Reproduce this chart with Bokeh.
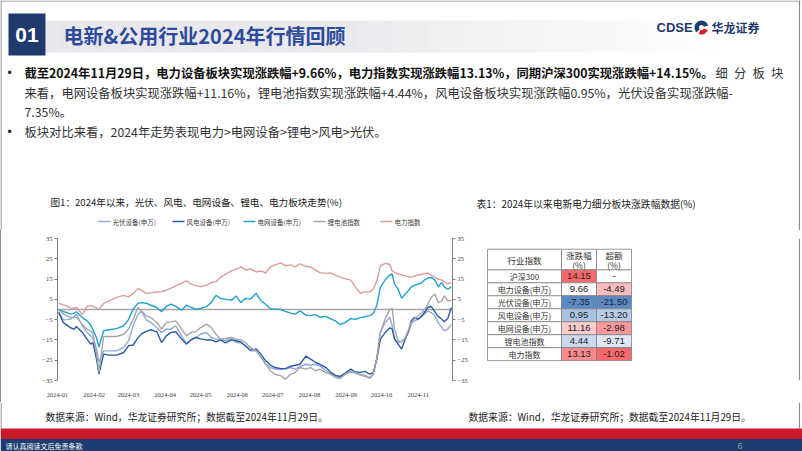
import datetime as dt
import pandas as pd
from bokeh.plotting import figure
from bokeh.layouts import column, row
from bokeh.models import (Range1d, FixedTicker, LinearAxis, Span, Spacer,
                          DatetimeTickFormatter, MonthsTicker, ColumnDataSource)
from bokeh.core.properties import value
from bokeh.embed import file_html
from bokeh.resources import INLINE

# ---------------- data ----------------
dates = [
    "2024-01-02", "2024-01-06", "2024-01-09", "2024-01-12", "2024-01-15", "2024-01-17", "2024-01-22", "2024-01-26", "2024-01-29", "2024-01-31",
    "2024-02-03", "2024-02-05", "2024-02-09", "2024-02-14", "2024-02-20", "2024-02-26", "2024-03-01", "2024-03-05", "2024-03-09", "2024-03-12",
    "2024-03-16", "2024-03-20", "2024-03-25", "2024-03-29", "2024-04-02", "2024-04-06", "2024-04-10", "2024-04-15", "2024-04-19", "2024-04-23",
    "2024-04-27", "2024-05-01", "2024-05-06", "2024-05-10", "2024-05-14", "2024-05-18", "2024-05-22", "2024-05-27", "2024-05-31", "2024-06-04",
    "2024-06-08", "2024-06-12", "2024-06-17", "2024-06-21", "2024-06-25", "2024-06-29", "2024-07-03", "2024-07-08", "2024-07-12", "2024-07-16",
    "2024-07-20", "2024-07-24", "2024-07-29", "2024-08-02", "2024-08-06", "2024-08-10", "2024-08-15", "2024-08-19", "2024-08-23", "2024-08-27",
    "2024-08-31", "2024-09-05", "2024-09-09", "2024-09-13", "2024-09-17", "2024-09-21", "2024-09-24", "2024-09-27", "2024-09-30", "2024-10-04",
    "2024-10-08", "2024-10-10", "2024-10-12", "2024-10-15", "2024-10-18", "2024-10-21", "2024-10-24", "2024-10-26", "2024-10-29", "2024-11-01",
    "2024-11-04", "2024-11-07", "2024-11-09", "2024-11-12", "2024-11-15", "2024-11-18", "2024-11-21", "2024-11-23", "2024-11-26", "2024-11-29",
]

pv_equipment = [  # 光伏设备(申万)
    -1.1, -5.1, -5.0, -4.8, -3.5, -2.3, -8.0, -11.3, -13.0, -14.3,
    -19.5, -26.0, -20.4, -20.4, -20.4, -18.7, -15.5, -8.0, -2.3, -0.7,
    -5.1, -6.4, -8.9, -11.3, -9.7, -9.7, -8.0, -13.0, -17.0, -14.6,
    -13.8, -12.2, -11.3, -13.8, -14.6, -14.6, -15.4, -14.3, -16.3, -16.3,
    -17.9, -20.4, -20.4, -23.6, -26.9, -28.6, -29.4, -29.4, -29.4, -28.6,
    -29.4, -28.1, -27.0, -27.5, -27.0, -27.8, -30.2, -31.5, -33.0, -33.5,
    -32.0, -30.8, -31.4, -31.9, -32.5, -33.5, -32.0, -24.0, -11.3, -6.4,
    -3.9, -8.0, -14.6, -16.3, -15.8, -14.0, -11.0, -7.0, -5.5, -4.8,
    -3.5, -2.0, -0.7, -1.5, -3.0, -6.5, -9.0, -10.5, -9.7, -7.35,
]
wind_equipment = [  # 风电设备(申万)
    -1.5, -6.5, -7.7, -9.0, -9.7, -8.4, -11.3, -14.6, -17.1, -16.3,
    -24.5, -31.9, -22.0, -22.5, -22.5, -21.2, -17.9, -17.5, -14.0, -12.0,
    -10.8, -10.0, -11.0, -16.3, -13.0, -11.3, -11.0, -14.6, -17.0, -15.0,
    -13.8, -14.5, -15.0, -15.0, -16.0, -15.0, -16.5, -15.0, -15.4, -16.0,
    -18.0, -20.0, -19.5, -22.0, -25.3, -27.4, -28.6, -29.2, -29.0, -28.0,
    -27.5, -27.0, -23.0, -24.5, -26.0, -27.0, -28.6, -31.0, -32.5, -33.0,
    -31.5, -29.4, -30.8, -31.0, -30.5, -31.9, -31.1, -24.5, -14.6, -11.5,
    -9.0, -9.7, -14.6, -17.1, -19.5, -14.6, -10.5, -5.6, -3.9, -4.8,
    -3.1, -1.0, 1.0, 1.5, -1.0, -3.5, -4.8, -6.0, -4.4, 0.95,
]
grid_equipment = [  # 电网设备(申万)
    0.0, -1.1, -1.5, -2.3, -1.8, -1.1, -4.0, -5.6, -7.5, -10.0,
    -14.0, -18.5, -10.5, -10.0, -9.4, -8.0, -5.0, 0.2, 3.0, 3.4,
    3.1, 2.1, 1.0, -1.1, 1.5, 2.6, 1.5, -0.3, 2.1, 1.0,
    0.2, 0.5, 1.5, 3.4, 7.0, 5.4, 5.1, 4.5, 6.7, 3.4,
    5.5, 5.1, 8.0, 4.3, 2.6, 0.3, 0.3, 0.0, -1.0, -1.8,
    -2.3, -0.7, -2.8, -3.0, -2.5, -3.8, -3.4, -4.6, -5.6, -7.5,
    -6.5, -4.5, -4.8, -4.0, -3.6, -3.0, -2.0, 2.0, 11.0, 14.5,
    17.0, 17.5, 12.5, 10.0, 5.5, 7.5, 9.5, 11.0, 12.0, 12.5,
    13.3, 14.9, 15.5, 15.8, 14.6, 11.3, 13.3, 11.0, 10.0, 11.16,
]
lithium_index = [  # 锂电池指数
    0.0, -2.3, -3.0, -3.9, -3.9, -3.9, -7.2, -9.7, -10.5, -12.0,
    -21.2, -31.0, -13.3, -13.3, -13.3, -12.2, -9.7, -4.8, 1.0, -0.7,
    -3.1, -3.9, -6.4, -9.7, -6.4, -6.1, -5.6, -9.7, -13.0, -11.3,
    -11.0, -8.9, -7.2, -8.9, -12.2, -14.6, -14.3, -13.8, -14.6, -14.9,
    -16.3, -18.7, -20.4, -22.8, -26.9, -30.2, -31.9, -32.7, -34.3, -31.9,
    -31.1, -28.6, -29.4, -28.6, -30.2, -29.4, -31.1, -32.0, -33.5, -34.0,
    -32.0, -30.2, -31.1, -32.3, -33.0, -34.0, -32.0, -24.0, -11.3, -4.8,
    0.2, 0.5, -9.7, -15.4, -16.0, -14.0, -9.7, -6.5, -4.5, -3.1,
    -1.5, 0.5, 2.6, 5.9, 7.6, 3.4, 4.3, 6.7, 4.3, 4.44,
]
power_index = [  # 电力指数
    3.1, 2.3, 1.8, 0.8, 0.6, 1.0, -2.5, 1.5, 2.0, 1.5,
    0.8, 0.0, 3.0, 4.5, 6.0, 7.0, 6.2, 7.8, 10.3, 9.5,
    7.8, 8.2, 8.6, 8.8, 9.5, 10.5, 11.7, 13.0, 14.1, 12.5,
    11.8, 11.3, 12.0, 13.3, 13.6, 16.0, 17.4, 19.0, 19.9, 21.0,
    19.5, 20.0, 18.5, 19.0, 18.0, 21.0, 22.0, 23.0, 21.5, 22.0,
    21.0, 22.5, 21.3, 21.0, 19.5, 18.2, 17.8, 18.0, 16.9, 16.0,
    15.2, 14.5, 11.0, 8.0, 8.7, 8.7, 10.0, 14.1, 21.5, 22.7,
    22.3, 19.0, 18.2, 17.6, 17.0, 16.6, 16.2, 15.8, 16.6, 17.0,
    17.4, 17.8, 18.0, 16.9, 15.8, 14.9, 14.5, 13.6, 12.8, 13.13,
]

series_names = ["光伏设备(申万)", "风电设备(申万)", "电网设备(申万)", "锂电池指数", "电力指数"]
y_ticks = [-35, -25, -15, -5, 5, 15, 25, 35]

table_header = ["行业指数", "涨跌幅", "超额"]
table_names = ["沪深300", "电力设备(申万)", "光伏设备(申万)", "风电设备(申万)", "电网设备(申万)", "锂电池指数", "电力指数"]
table_change = [14.15, 9.66, -7.35, 0.95, 11.16, 4.44, 13.13]
table_excess = [None, -4.49, -21.50, -13.20, -2.98, -9.71, -1.02]

title_text = "电新&公用行业2024年行情回顾"
bullet_lines = [
    "截至2024年11月29日，电力设备板块实现涨跌幅+9.66%，电力指数实现涨跌幅13.13%，同期沪深300实现涨跌幅+14.15%。",
    "细分板块",
    "来看，电网设备板块实现涨跌幅+11.16%，锂电池指数实现涨跌幅+4.44%，风电设备板块实现涨跌幅0.95%，光伏设备实现涨跌幅-",
    "7.35%。",
    "板块对比来看，2024年走势表现电力>电网设备>锂电>风电>光伏。",
]
chart_title = "图1：2024年以来，光伏、风电、电网设备、锂电、电力板块走势(%)"
table_title = "表1：2024年以来电新电力细分板块涨跌幅数据(%)"
source_text = "数据来源：Wind，华龙证券研究所；数据截至2024年11月29日。"

# ---------------- styles ----------------
CJK = "Noto Sans CJK SC"
SANS = "Liberation Sans"
SERIF = "Liberation Serif"
NAVY = "#1f3a6d"
series_colors = ["#8faadc", "#2a5ba3", "#22a2cd", "#a6a6a6", "#dc9ca0"]
BORDER = "#8c8c8c"
ROW_Y = 230  # slide y where the chart/table row starts
ROW_H = 402 - ROW_Y


def canvas(w, h, x0, y0):
    p = figure(width=w, height=h, x_range=Range1d(x0, x0 + w), y_range=Range1d(y0 + h, y0),
               output_backend="svg", toolbar_location=None, x_axis_location=None,
               y_axis_location=None, min_border=0)
    p.xgrid.visible = False
    p.ygrid.visible = False
    p.outline_line_color = None
    p.background_fill_color = "white"
    p.border_fill_color = "white"
    return p


def txt(p, x, y, s, size, color="#222222", bold=False, align="left", font=CJK):
    p.text(x=[x], y=[y], text=[s], text_font=value(font), text_font_size=f"{size}px",
           text_color=color, text_font_style="bold" if bold else "normal",
           text_align=align, text_baseline="middle")


# ---------------- top part (header + bullets + titles + legend) ----------------
top = canvas(802, ROW_Y, 0, 0)
lefts = list(range(45, 720, 12))
alphas = [max(0.0, min(1.0, (720 - l) / 420)) for l in lefts]
top.quad(left=lefts, right=[l + 12 for l in lefts], top=[20] * len(lefts), bottom=[52] * len(lefts),
         fill_color="#e8e8ec", fill_alpha=alphas, line_color=None)
top.quad(left=[8], right=[45], top=[13], bottom=[55], fill_color=NAVY, line_color=None)
txt(top, 26.5, 34.5, "01", 21, color="white", bold=True, align="center", font=SANS)
txt(top, 63, 35, title_text, 20, color="#2d4b9b", bold=True)
# logo
txt(top, 656, 27, "CDSE", 13, color=NAVY, bold=True, font=SANS)
top.annular_wedge(x=[701], y=[27], inner_radius=2.5, outer_radius=7, start_angle=[0.3],
                  end_angle=[3.9], fill_color=NAVY, line_color=None)
top.annular_wedge(x=[701], y=[27], inner_radius=2.5, outer_radius=7, start_angle=[4.3],
                  end_angle=[5.9], fill_color="#d2232a", line_color=None)
txt(top, 711, 27, "华龙证券", 12, color=NAVY, bold=True)
# bullets
for by in (72, 131):
    txt(top, 9, by, "•", 12, color="#222222", align="center", font=SANS)
txt(top, 24, 72, bullet_lines[0], 12.3, color="#111111", bold=True)
# justified tail of line 1 (spread characters like the source slide)
tail = list(bullet_lines[1])
top.text(x=[715 + 18.5 * i for i in range(len(tail))], y=[72] * len(tail), text=tail,
         text_font=value(CJK), text_font_size="12.3px", text_color="#333333",
         text_baseline="middle")
txt(top, 24, 92, bullet_lines[2], 12.3, color="#333333")
txt(top, 24, 111, bullet_lines[3], 12.3, color="#333333")
txt(top, 24, 131, bullet_lines[4], 12.3, color="#333333")
# titles
txt(top, 50, 201, chart_title, 9.6, color="#222222")
txt(top, 476, 203, table_title, 9.8, color="#222222")
# chart legend
leg_x = [98, 172, 243, 313, 380]
top.segment(x0=leg_x, y0=[221] * 5, x1=[lx + 12 for lx in leg_x], y1=[221] * 5,
            line_color=series_colors, line_width=1.4)
top.text(x=[lx + 14 for lx in leg_x], y=[221] * 5, text=series_names, text_font=value(CJK),
         text_font_size="6.5px", text_color="#404040", text_baseline="middle")
# slide frame
top.segment(x0=[0, 0.5, 799], y0=[0.5, 0, 0], x1=[800, 0.5, 799], y1=[0.5, ROW_Y, ROW_Y],
            line_color=BORDER, line_width=1.2)

# ---------------- line chart ----------------
x = pd.to_datetime(dates)
chart = figure(width=469, height=ROW_H, x_axis_type="datetime",
               x_range=Range1d(dt.datetime(2024, 1, 1), dt.datetime(2024, 11, 30)),
               y_range=Range1d(-35, 35), output_backend="svg", toolbar_location=None,
               y_axis_location=None, min_border_left=56, min_border_right=18,
               min_border_top=238 - ROW_Y, min_border_bottom=22)
chart.xgrid.visible = False
chart.ygrid.visible = False
chart.outline_line_color = None
chart.add_layout(Span(location=0, dimension="width", line_color="#a6a6a6", line_width=1.3,
                      level="underlay"))
for vals, col in zip([pv_equipment, wind_equipment, grid_equipment, lithium_index, power_index],
                     series_colors):
    src = ColumnDataSource(dict(x=x, y=vals))
    chart.line("x", "y", source=src, line_color=col, line_width=1.4)

xa = chart.xaxis[0]
xa.ticker = MonthsTicker(months=list(range(12)))
xa.formatter = DatetimeTickFormatter(months="%Y-%m", days="%Y-%m", years="%Y-%m")
xa.axis_line_color = None
xa.major_tick_line_color = None
xa.minor_tick_line_color = None
xa.major_label_text_font = SERIF
xa.major_label_text_font_size = "6.5px"
xa.major_label_text_color = "#404040"
xa.major_label_standoff = 6

for side in ("left", "right"):
    ax = LinearAxis(ticker=FixedTicker(ticks=y_ticks))
    ax.axis_line_color = "#7f7f7f"
    ax.major_tick_line_color = "#7f7f7f"
    ax.major_tick_out = 3
    ax.major_tick_in = 0
    ax.minor_tick_line_color = None
    ax.major_label_text_font = SERIF
    ax.major_label_text_font_size = "6.5px"
    ax.major_label_text_color = "#404040"
    ax.major_label_standoff = 2
    chart.add_layout(ax, side)

left_edge = Spacer(width=1, height=ROW_H, styles={"background-color": BORDER})

# ---------------- table ----------------
tbl = canvas(332, ROW_H, 470, ROW_Y)


def scale_colors(vals):
    v = sorted(a for a in vals if a is not None)
    lo, hi = v[0], v[-1]
    n = len(v)
    mid = v[n // 2] if n % 2 else (v[n // 2 - 1] + v[n // 2]) / 2
    blue, white, red = (90, 138, 198), (252, 252, 255), (248, 105, 107)
    out = []
    for a in vals:
        if a is None:
            out.append("#ffffff")
            continue
        if a <= mid:
            t = (a - lo) / (mid - lo)
            c = [b + (w - b) * t for b, w in zip(blue, white)]
        else:
            t = (a - mid) / (hi - mid)
            c = [w + (r - w) * t for w, r in zip(white, red)]
        out.append("#%02x%02x%02x" % tuple(int(round(q)) for q in c))
    return out


col_edges = [487, 561, 596, 631]
head_top, head_bot, row_h = 243, 268, 15.7
n_rows = len(table_names)
row_tops = [head_bot + i * row_h for i in range(n_rows)]
tbl.quad(left=col_edges[:-1], right=col_edges[1:], top=[head_top] * 3, bottom=[head_bot] * 3,
         fill_color="white", line_color="#808080", line_width=0.8)
chg_colors = scale_colors(table_change)
exc_colors = scale_colors(table_excess)
for ci, colors in enumerate([["#ffffff"] * n_rows, chg_colors, exc_colors]):
    tbl.quad(left=[col_edges[ci]] * n_rows, right=[col_edges[ci + 1]] * n_rows, top=row_tops,
             bottom=[t + row_h for t in row_tops], fill_color=colors, line_color="#808080",
             line_width=0.8)
cx = [(col_edges[i] + col_edges[i + 1]) / 2 for i in range(3)]
txt(tbl, cx[0], (head_top + head_bot) / 2, table_header[0], 8.5, color="#333333", align="center")
txt(tbl, cx[1], 250.5, table_header[1], 8.5, color="#333333", align="center")
txt(tbl, cx[1], 261.5, "(%)", 8.5, color="#333333", align="center")
txt(tbl, cx[2], 250.5, table_header[2], 8.5, color="#333333", align="center")
txt(tbl, cx[2], 261.5, "(%)", 8.5, color="#333333", align="center")
ymid = [t + row_h / 2 for t in row_tops]
tbl.text(x=[cx[0]] * n_rows, y=ymid, text=table_names, text_font=value(CJK), text_font_size="8px",
         text_color="#333333", text_align="center", text_baseline="middle")
tbl.text(x=[cx[1]] * n_rows, y=ymid, text=[f"{v:.2f}" for v in table_change], text_font=value(SANS),
         text_font_size="9.5px", text_color="#222222", text_align="center", text_baseline="middle")
tbl.text(x=[cx[2]] * n_rows, y=ymid, text=["-" if v is None else f"{v:.2f}" for v in table_excess],
         text_font=value(SANS), text_font_size="9.5px", text_color="#222222", text_align="center",
         text_baseline="middle")
tbl.segment(x0=[799], y0=[ROW_Y], x1=[799], y1=[402], line_color=BORDER, line_width=1.2)

# ---------------- bottom part ----------------
bot = canvas(802, 49, 0, 402)
txt(bot, 45, 416, source_text, 9.8, color="#222222")
txt(bot, 468, 416, source_text, 9.8, color="#222222")
bot.segment(x0=[0.5, 799], y0=[402, 402], x1=[0.5, 799], y1=[428, 428], line_color=BORDER, line_width=1.2)
bot.quad(left=[0], right=[802], top=[428], bottom=[438.5], fill_color="#c8192b", line_color=None)
bot.quad(left=[0], right=[802], top=[438.5], bottom=[451], fill_color="#1e3c6f", line_color=None)
txt(bot, 5, 445, "请认真阅读文后免责条款", 7, color="white")
txt(bot, 737, 445, "6", 9, color="#9a9a9a", font=SANS)

layout = column(top, row(left_edge, chart, tbl), bot)
open("out.html", "w").write(file_html(layout, INLINE))
